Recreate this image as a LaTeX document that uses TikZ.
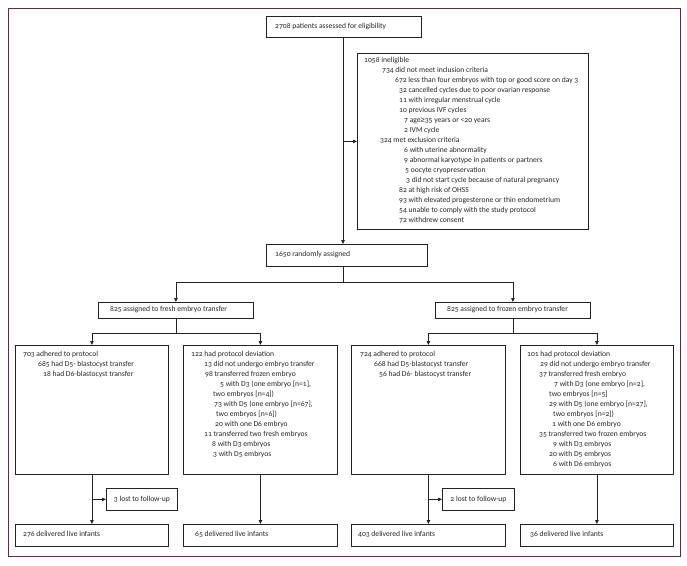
\documentclass[tikz,border=0pt]{standalone}
\usepackage{fontspec}
\setmainfont{Carlito}[Numbers=OldStyle]
\newfontfamily\symfont{Liberation Sans}
\usetikzlibrary{arrows.meta}
\definecolor{framec}{HTML}{5C2E3E}
\definecolor{txtc}{HTML}{262626}
\definecolor{lnc}{HTML}{222222}
\newcommand\bx[5]{\node[box,minimum width=#4pt,minimum height=#5pt] (#1) at (#2,#3) {};}
\newcommand\tl[4]{\node[tx] (#1) at (#2,#3) {#4};}
\begin{document}
\begin{tikzpicture}[x=1pt,y=-1pt,
  box/.style={draw=lnc,line width=0.8pt,fill=white,inner sep=0pt,anchor=north west},
  tx/.style={inner sep=0pt,text=txtc,font=\fontsize{7.6}{8}\selectfont,anchor=west,text height=5pt,text depth=1.5pt},
  ctx/.style={tx,anchor=center},
  ln/.style={draw=lnc,line width=0.8pt},
  arr/.style={ln,-{Triangle[length=4pt,width=3.5pt]}}]
\fill[white] (0,0) rectangle (687,565);
\useasboundingbox (0,0) rectangle (687,565);
\draw[framec,line width=0.8pt] (8,8) rectangle (680,556);
% boxes
\bx{b1}{266}{16}{155}{21}
\bx{ine}{357}{53}{231}{176}
\bx{rand}{266}{244}{161}{22}
\bx{fr}{98}{302}{155}{16}
\bx{fz}{435}{302}{155}{16}
\bx{a1}{15}{345}{153}{129}
\bx{d1}{183}{345}{154}{129}
\bx{a2}{351}{345}{154}{129}
\bx{d2}{520}{345}{153}{129}
\bx{l1}{106}{488}{71}{22}
\bx{l2}{442}{488}{72}{22}
\bx{o1}{15}{524}{153}{22}
\bx{o2}{183}{524}{154}{22}
\bx{o3}{351}{524}{154}{22}
\bx{o4}{520}{524}{153}{22}
% connectors
\coordinate (s1) at (343,282);
\draw[arr] (b1.south -| s1) -- (rand.north -| s1);
\draw[arr] (ine.west -| s1) -- (ine.west);
\draw[ln] (rand.south -| s1) -- (s1);
\draw[arr] (s1) -| (fr.north);
\draw[arr] (s1) -| (fz.north);
\path (fr.south) ++(0,15) coordinate (s2);
\path (fz.south) ++(0,15) coordinate (s3);
\draw[ln] (fr.south) -- (s2);
\draw[arr] (s2) -| (a1.north);
\draw[arr] (s2) -| (d1.north);
\draw[ln] (fz.south) -- (s3);
\draw[arr] (s3) -| (a2.north);
\draw[arr] (s3) -| (d2.north);
\draw[arr] (a1.south) -- (o1.north);
\draw[arr] (a1.south |- l1.west) -- (l1.west);
\draw[arr] (d1.south) -- (o2.north);
\draw[arr] (a2.south) -- (o3.north);
\draw[arr] (a2.south |- l2.west) -- (l2.west);
\draw[arr] (d2.south) -- (o4.north);
% single texts
\tl{t-b1}{275}{26.5}{2708 patients assessed for eligibility}
\tl{t-rand}{275}{255}{1650 randomly assigned}
\tl{t-fr}{110}{310}{825 assigned to fresh embryo transfer}
\tl{t-fz}{447}{310}{825 assigned to frozen embryo transfer}
\node[ctx] (t-l1) at (l1) {3 lost to follow-up};
\node[ctx] (t-l2) at (l2) {2 lost to follow-up};
\tl{t-o1}{23}{535}{276 delivered live infants}
\tl{t-o2}{195}{535}{65 delivered live infants}
\tl{t-o3}{358}{535}{403 delivered live infants}
\tl{t-o4}{530}{535}{36 delivered live infants}
% ineligible
\tl{i1}{364}{61}{1058 ineligible}
\tl{i2}{382}{71}{734 did not meet inclusion criteria}
\tl{i3}{395}{81}{672 less than four embryos with top or good score on day 3}
\tl{i4}{399}{91}{32 cancelled cycles due to poor ovarian response}
\tl{i5}{399}{101}{11 with irregular menstrual cycle}
\tl{i6}{399}{111}{10 previous IVF cycles}
\tl{i7}{404}{121}{7 age{\symfont ≥}35 years or <20 years}
\tl{i8}{404}{131}{2 IVM cycle}
\tl{i9}{380}{141}{324 met exclusion criteria}
\tl{i10}{404}{151}{6 with uterine abnormality}
\tl{i11}{404}{161}{9 abnormal karyotype in patients or partners}
\tl{i12}{405}{171}{5 oocyte cryopreservation}
\tl{i13}{406}{181}{3 did not start cycle because of natural pregnancy}
\tl{i14}{399}{191}{82 at high risk of OHSS}
\tl{i15}{399}{201}{93 with elevated progesterone or thin endometrium}
\tl{i16}{399}{211}{54 unable to comply with the study protocol}
\tl{i17}{399}{221}{72 withdrew consent}
% 703
\tl{a1a}{23}{355}{703 adhered to protocol}
\tl{a1b}{38}{365}{685 had D5- blastocyst transfer}
\tl{a1c}{43}{375}{18 had D6-blastocyst transfer}
% 122
\tl{d1a}{191}{355}{122 had protocol deviation}
\tl{d1b}{204}{365}{13 did not undergo embryo transfer}
\tl{d1c}{205}{375}{98 transferred frozen embryo}
\tl{d1d}{220}{385}{5 with D3 (one embryo [n=1],}
\tl{d1e}{213}{395}{two embryos [n=4])}
\tl{d1f}{214}{405}{73 with D5 (one embryo [n=67],}
\tl{d1g}{216}{415}{two embryos [n=6])}
\tl{d1h}{215}{425}{20 with one D6 embryo}
\tl{d1i}{204}{435}{11 transferred two fresh embryos}
\tl{d1j}{212}{445}{8 with D3 embryos}
\tl{d1k}{213}{455}{3 with D5 embryos}
% 724
\tl{a2a}{360}{355}{724 adhered to protocol}
\tl{a2b}{374}{365}{668 had D5-blastocyst transfer}
\tl{a2c}{379}{375}{56 had D6- blastocyst transfer}
% 101
\tl{d2a}{527}{355}{101 had protocol deviation}
\tl{d2b}{540}{365}{29 did not undergo embryo transfer}
\tl{d2c}{539}{375}{37 transferred fresh embryo}
\tl{d2d}{554}{385}{7 with D3 (one embryo [n=2],}
\tl{d2e}{549}{395}{two embryos [n=5]}
\tl{d2f}{549}{405}{29 with D5 (one embryo [n=27],}
\tl{d2g}{553}{415}{two embryos [n=2])}
\tl{d2h}{552}{425}{1 with one D6 embryo}
\tl{d2i}{539}{435}{35 transferred two frozen embryos}
\tl{d2j}{553}{445}{9 with D3 embryos}
\tl{d2k}{549}{455}{20 with D5 embryos}
\tl{d2l}{553}{465}{6 with D6 embryos}
\end{tikzpicture}
\end{document}
